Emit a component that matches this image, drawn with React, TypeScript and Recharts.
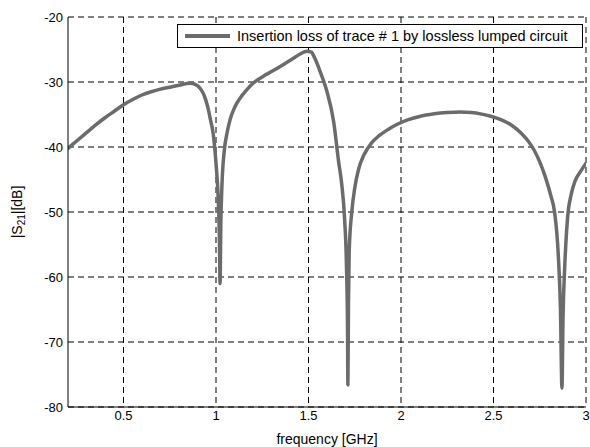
import { LineChart, Line, XAxis, YAxis, CartesianGrid, Legend, Label } from "recharts";

// frequency [GHz]
const freqs = [
  0.2, 0.25, 0.3, 0.35, 0.4, 0.45, 0.5, 0.55, 0.6, 0.65, 0.7, 0.75, 0.8, 0.86, 0.89, 0.915,
  0.935, 0.955, 0.97, 0.985, 1.0, 1.012, 1.019, 1.022, 1.026, 1.032, 1.045, 1.06, 1.076, 1.095,
  1.112, 1.14, 1.166, 1.2, 1.256, 1.3, 1.365, 1.41, 1.455, 1.49, 1.515, 1.535, 1.563, 1.6, 1.636,
  1.663, 1.68, 1.695, 1.705, 1.711, 1.713, 1.716, 1.72, 1.735, 1.75, 1.77, 1.8, 1.84, 1.88, 1.93,
  1.98, 2.04, 2.1, 2.18, 2.25, 2.32, 2.38, 2.43, 2.49, 2.54, 2.6, 2.65, 2.69, 2.72, 2.75, 2.78,
  2.81, 2.83, 2.85, 2.862, 2.87, 2.876, 2.885, 2.9, 2.92, 2.94, 2.97, 3.0,
];

// |S21| [dB]
const s21 = [
  -40.2, -39.0, -37.8, -36.6, -35.5, -34.5, -33.5, -32.7, -32.0, -31.5, -31.1, -30.8, -30.5, -30.2, -30.4, -31.0,
  -32.0, -33.8, -35.8, -38.0, -42.5, -48.0, -55.0, -61.0, -52.0, -46.0, -40.5, -37.8, -35.8, -34.3,
  -33.3, -32.1, -31.2, -30.2, -29.1, -28.4, -27.3, -26.5, -25.7, -25.25, -25.4, -26.4, -28.4, -31.5, -36.1,
  -42.3, -45.8, -51.0, -58.0, -68.0, -76.6, -64.0, -56.0, -49.7, -46.3, -43.5, -41.2, -39.4, -38.3, -37.3,
  -36.5, -35.8, -35.3, -34.9, -34.7, -34.6, -34.7, -34.9, -35.3, -35.8, -36.7, -37.9, -39.2, -40.5, -42.3, -44.6,
  -47.5, -50.0, -56.5, -65.0, -77.1, -66.0, -58.4, -51.0, -47.3, -45.3, -43.8, -42.5,
];

const xTicks = [0.5, 1, 1.5, 2, 2.5, 3];
const yTicks = [-80, -70, -60, -50, -40, -30, -20];
const legendLabel = "Insertion loss of trace # 1 by lossless lumped circuit";

const data = freqs.map((f, i) => ({ f, s21: s21[i] }));

const font = "'Liberation Sans', Arial, sans-serif";
const lineColor = "#6b6b6b";

const YLabel = (props: any) => {
  const vb = props.viewBox || {};
  const x = (vb.x || 0) + 17;
  const y = (vb.y || 0) + (vb.height || 0) / 2;
  return (
    <text
      x={x}
      y={y}
      transform={`rotate(-90 ${x} ${y})`}
      textAnchor="middle"
      dominantBaseline="central"
      fontFamily={font}
      fontSize={14}
      fill="#000"
    >
      |S
      <tspan fontSize={10} dy={4}>21</tspan>
      <tspan dy={-4}>|[dB]</tspan>
    </text>
  );
};

const LegendBox = () => (
  <div
    style={{
      display: "flex",
      alignItems: "center",
      height: 22,
      border: "1px solid #000",
      background: "#fff",
      fontFamily: font,
      fontSize: 14.5,
      color: "#000",
      whiteSpace: "nowrap",
    }}
  >
    <span style={{ display: "inline-block", width: 45, height: 4, background: lineColor, marginLeft: 7, marginRight: 7 }} />
    {legendLabel}
  </div>
);

export default function App() {
  return (
    <div style={{ position: "absolute", left: 0, top: 0 }}>
      <LineChart width={590} height={447} data={data} margin={{ top: 17, right: 4, bottom: 0, left: 0 }}>
        <CartesianGrid stroke="#000" strokeDasharray="6 4" horizontalValues={yTicks} verticalValues={xTicks} />
        <XAxis
          dataKey="f"
          type="number"
          domain={[0.2, 3]}
          ticks={xTicks}
          allowDataOverflow
          height={40}
          tickLine={false}
          tickSize={2}
          tickMargin={2}
          axisLine={{ stroke: "#000" }}
          tick={{ fill: "#000", fontSize: 13, fontFamily: font }}
        >
          <Label
            value="frequency [GHz]"
            position="insideBottom"
            offset={3}
            style={{ fill: "#000", fontSize: 14, fontFamily: font }}
          />
        </XAxis>
        <YAxis
          type="number"
          domain={[-80, -20]}
          ticks={yTicks}
          allowDataOverflow
          width={68}
          tickLine={false}
          tickSize={3}
          tickMargin={2}
          axisLine={{ stroke: "#000" }}
          tick={{ fill: "#000", fontSize: 13, fontFamily: font }}
        >
          <Label content={YLabel} />
        </YAxis>
        <Legend
          layout="horizontal"
          verticalAlign="middle"
          align="center"
          wrapperStyle={{ top: 24, left: 177, width: 406, height: 24 }}
          content={LegendBox}
        />
        <Line
          type="monotone"
          dataKey="s21"
          stroke={lineColor}
          strokeWidth={3.5}
          dot={false}
          strokeLinejoin="round"
          strokeLinecap="round"
          isAnimationActive={false}
        />
      </LineChart>
    </div>
  );
}
